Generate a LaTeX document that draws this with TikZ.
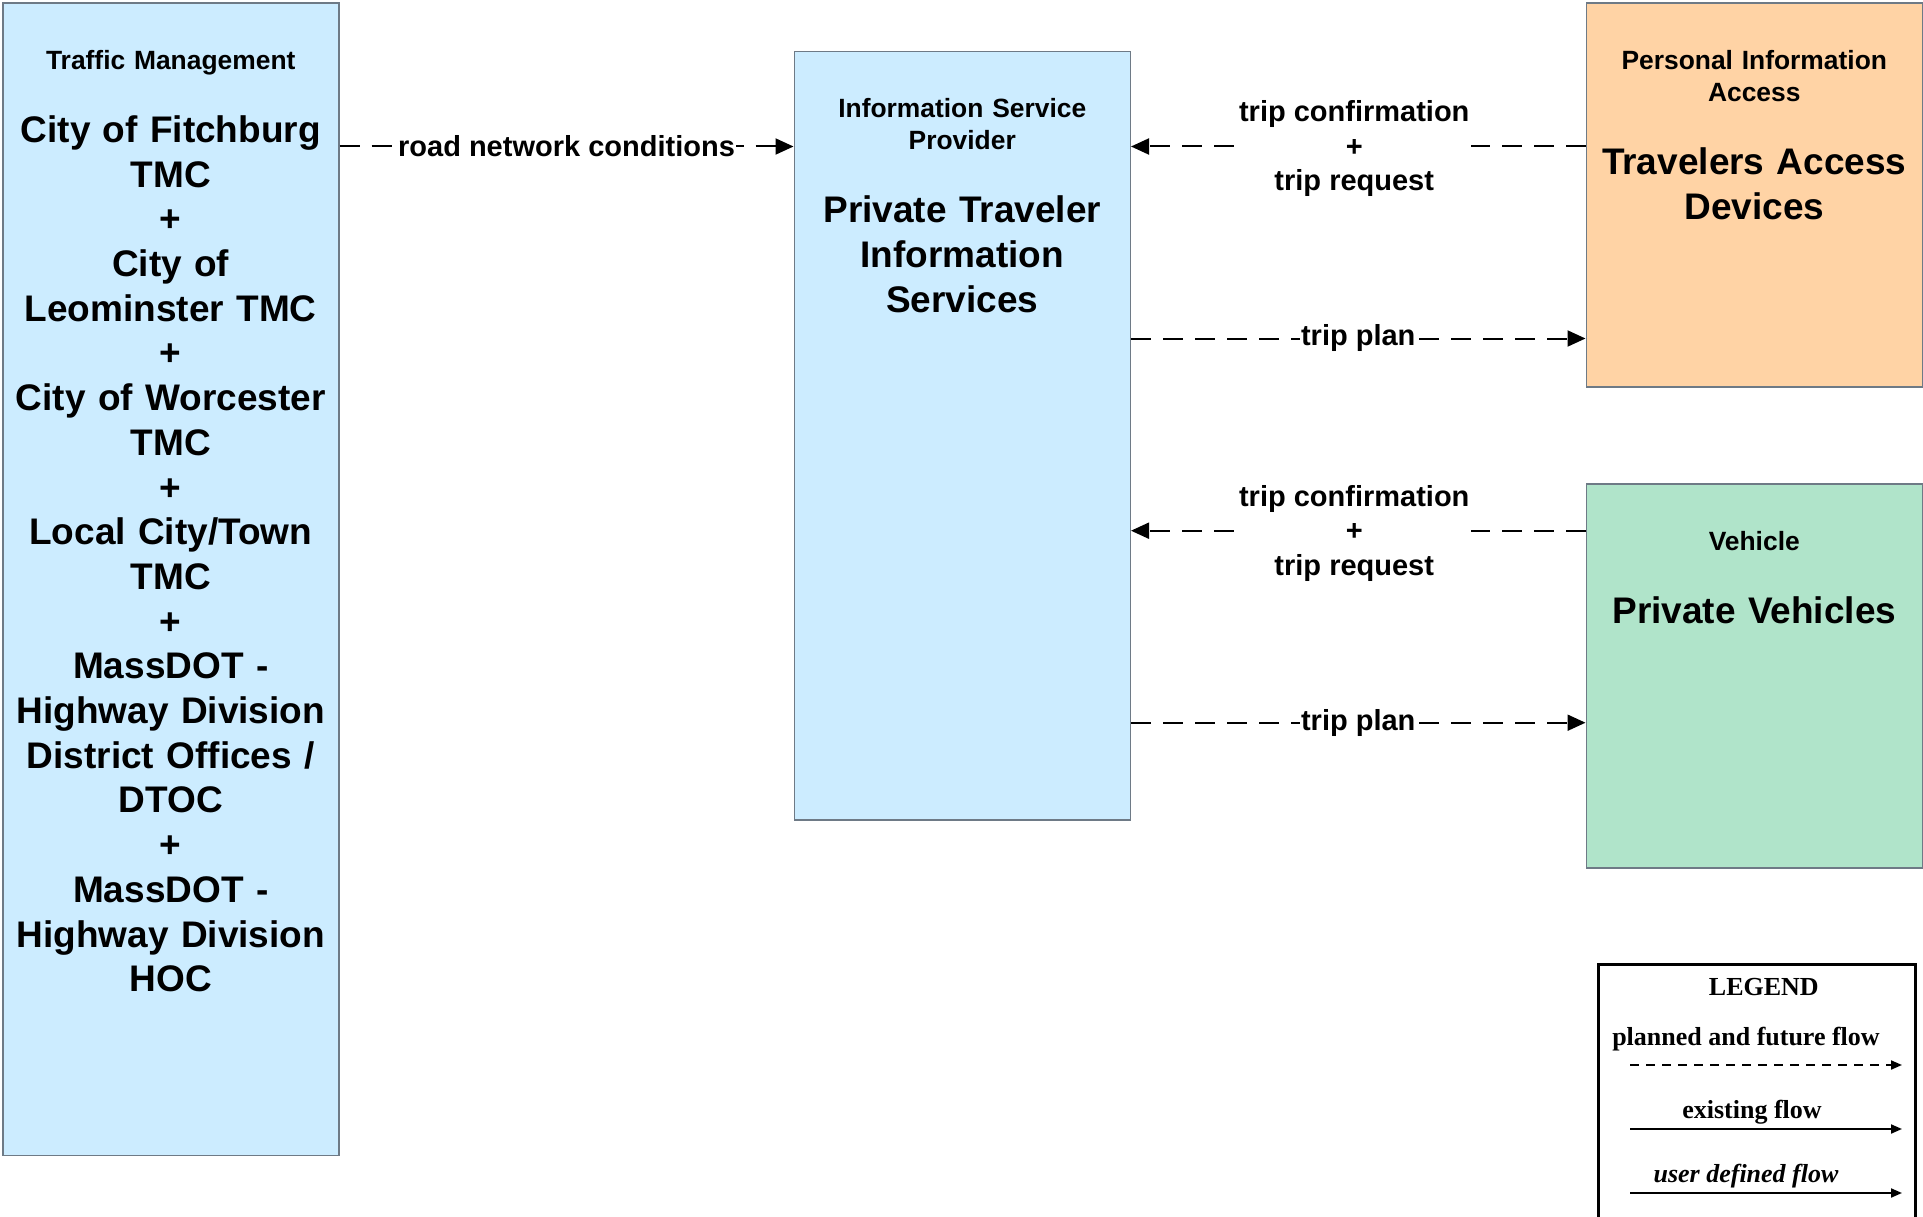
\documentclass[tikz,border=0pt]{standalone}
\usepackage{fontspec}
\setmainfont{Liberation Sans}
\newfontfamily\legendfont{Liberation Serif}
\usetikzlibrary{arrows.meta}

\definecolor{tmblue}{RGB}{204,236,255}
\definecolor{padorange}{RGB}{255,211,165}
\definecolor{vehgreen}{RGB}{176,228,202}
\definecolor{edgegray}{RGB}{110,122,134}

\tikzset{
  entity/.style={draw=edgegray, line width=1.5pt, anchor=north west, inner sep=0pt, minimum width=336},
  role/.style={anchor=base, text width=330, align=center, font=\bfseries\fontsize{26.4}{32}\selectfont},
  entname/.style={anchor=base, text width=330, align=center, font=\bfseries\fontsize{37}{44.7}\selectfont},
  flow/.style={line width=2pt, dash pattern=on 20pt off 12pt, -{Triangle[length=18pt,width=16pt]}},
  flowlabel/.style={fill=white, inner sep=2pt, align=center, font=\bfseries\fontsize{29}{34.5}\selectfont},
  legendtext/.style={anchor=base, font=\legendfont\bfseries\fontsize{26}{30}\selectfont},
  legendflow/.style={line width=2pt, -{Triangle[length=11pt,width=9pt]}}
}

\begin{document}
\begin{tikzpicture}[x=1pt,y=1pt]
\useasboundingbox (0,0) rectangle (1923,-1217);

\node[entity, fill=tmblue, minimum height=1152] (tm) at (2,-2.5) {};
\node[entity, fill=tmblue, minimum height=768] (isp) at (793.5,-51) {};
\node[entity, fill=padorange, minimum height=383.5] (tad) at (1585.5,-2.5) {};
\node[entity, fill=vehgreen, minimum height=384] (pv) at (1585.5,-483) {};

\node[role] (tm-role) at ([yshift=-67]tm.north) {Traffic Management};
\node[entname] (tm-name) at ([yshift=-73]tm-role.base) {City of Fitchburg\\TMC\\+\\City of\\Leominster TMC\\+\\City of Worcester\\TMC\\+\\Local City/Town\\TMC\\+\\MassDOT -\\Highway Division\\District Offices /\\DTOC\\+\\MassDOT -\\Highway Division\\HOC};

\node[role] (isp-role) at ([yshift=-67]isp.north) {Information Service\\Provider};
\node[entname] (isp-name) at ([yshift=-105]isp-role.base) {Private Traveler\\Information\\Services};

\node[role] (tad-role) at ([yshift=-67]tad.north) {Personal Information\\Access};
\node[entname] (tad-name) at ([yshift=-105]tad-role.base) {Travelers Access\\Devices};

\node[role] (pv-role) at ([yshift=-67]pv.north) {Vehicle};
\node[entname] (pv-name) at ([yshift=-73]pv-role.base) {Private Vehicles};

\coordinate (r0) at ([yshift=-144]tm.north east);
\coordinate (r1) at ([yshift=-144]tad.north west);
\coordinate (r2) at ([yshift=-336]tad.north west);
\coordinate (r3) at ([yshift=-47.7]pv.north west);
\coordinate (r4) at ([yshift=-239.7]pv.north west);

\draw[flow] (r0) -- (r0 -| isp.west) node[midway, flowlabel, inner sep=1pt] {road network conditions};
\draw[flow] (r1) -- (r1 -| isp.east) node[midway, flowlabel, xshift=-4, yshift=-2.5] {trip confirmation\\+\\trip request};
\draw[flow] (r2 -| isp.east) -- (r2) node[midway, flowlabel, inner sep=1pt] {trip plan};
\draw[flow] (r3) -- (r3 -| isp.east) node[midway, flowlabel, xshift=-4, yshift=-2.5] {trip confirmation\\+\\trip request};
\draw[flow] (r4 -| isp.east) -- (r4) node[midway, flowlabel, inner sep=1pt] {trip plan};

\node[draw, line width=2.7pt, anchor=north west, inner sep=0pt, minimum width=317, minimum height=270] (legend) at (1597,-963) {};
\node[legendtext] (legend-title) at ([xshift=7,yshift=-32]legend.north) {LEGEND};
\node[legendtext] (legend-planned) at (1746,-1045) {planned and future flow};
\node[legendtext] (legend-existing) at (1752,-1118) {existing flow};
\node[legendtext, font=\legendfont\bfseries\itshape\fontsize{26}{30}\selectfont] (legend-user) at (1746,-1182) {user defined flow};

\coordinate (lg1) at (1630,-1065);
\coordinate (lg2) at (1630,-1129);
\coordinate (lg3) at (1630,-1193);
\draw[legendflow, dash pattern=on 9pt off 7pt] (lg1) -- ++(272,0);
\draw[legendflow] (lg2) -- ++(272,0);
\draw[legendflow] (lg3) -- ++(272,0);

\end{tikzpicture}
\end{document}
